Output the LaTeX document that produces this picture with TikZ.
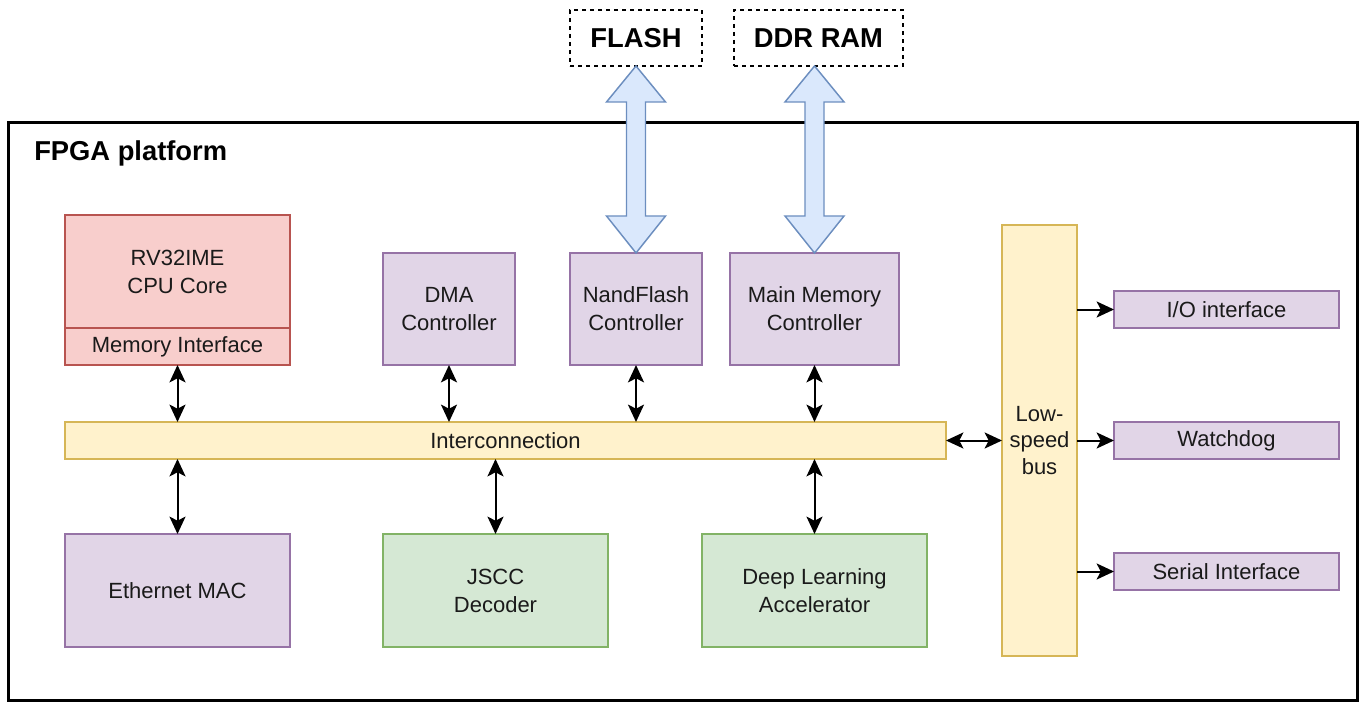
\documentclass[tikz,border=0pt]{standalone}
\usepackage{fontspec}
\setmainfont{Liberation Sans}
\usetikzlibrary{arrows.meta}
\definecolor{redF}{HTML}{F8CECC}\definecolor{redD}{HTML}{B85450}
\definecolor{purF}{HTML}{E1D5E7}\definecolor{purD}{HTML}{9673A6}
\definecolor{grnF}{HTML}{D5E8D4}\definecolor{grnD}{HTML}{82B366}
\definecolor{yelF}{HTML}{FFF2CC}\definecolor{yelD}{HTML}{D6B656}
\definecolor{bluF}{HTML}{DAE8FC}\definecolor{bluD}{HTML}{6C8EBF}
\definecolor{txt}{HTML}{1A1A1A}
\begin{document}
\begin{tikzpicture}[x=0.75pt,y=-0.75pt,
  sz/.style 2 args={minimum width=#1*0.75pt, minimum height=#2*0.75pt},
  base/.style={draw, line width=1.1pt, inner sep=0pt, outer sep=0pt, align=center, text=txt,
    font=\fontsize{16.5}{21}\selectfont},
  rbox/.style={base, fill=redF, draw=redD},
  pbox/.style={base, fill=purF, draw=purD},
  gbox/.style={base, fill=grnF, draw=grnD},
  ybox/.style={base, fill=yelF, draw=yelD},
  dbox/.style={draw=black, dashed, line width=1.1pt, inner sep=0pt, outer sep=0pt,
    font=\fontsize{20.5}{24}\selectfont\bfseries},
  blk/.style={fill=bluF, draw=bluD, line width=1.1pt, line join=miter},
  con/.style={line width=1.5pt, {Stealth[length=13pt,width=12pt,inset=3pt]}-{Stealth[length=13pt,width=12pt,inset=3pt]}},
  one/.style={line width=1.5pt, -{Stealth[length=13pt,width=12pt,inset=3pt]}}
]
\useasboundingbox (0,0) rectangle (1363,702);
% outer platform box
\draw[line width=2.3pt] (8.5,122.5) rectangle (1357.5,701);
\node[anchor=west, inner sep=0pt, font=\fontsize{20.5}{24}\selectfont\bfseries] (title) at (34,153) {FPGA platform};

% external memories
\node[dbox, sz={132}{56}] (flash) at (636,38) {FLASH};
\node[dbox, sz={169}{56}] (ddr) at (818.5,38) {DDR RAM};

% CPU
\node[rbox, sz={225}{113}] (cpu) at (177.5,271.5) {RV32IME\\CPU Core};
\node[rbox, sz={225}{37}] (memif) at (177.5,346.5) {Memory Interface};

% controllers
\node[pbox, sz={132}{112}] (dma) at (449,309) {DMA\\Controller};
\node[pbox, sz={132}{112}] (nand) at (636,309) {NandFlash\\Controller};
\node[pbox, sz={169}{112}] (mm) at (814.5,309) {Main Memory\\Controller};

% interconnection and low-speed bus
\node[ybox, sz={881}{37}] (ic) at (505.5,440.5) {Interconnection};
\node[ybox, sz={75}{431}, font=\fontsize{16.5}{20}\selectfont] (lsb) at (1039.5,440.5) {Low-\\speed\\bus};

% peripherals
\node[pbox, sz={225}{37}] (io) at (1226.5,309.5) {I/O interface};
\node[pbox, sz={225}{37}] (wd) at (1226.5,440.5) {Watchdog};
\node[pbox, sz={225}{37}] (ser) at (1226.5,571.5) {Serial Interface};

% bottom blocks
\node[pbox, sz={225}{113}] (eth) at (177.5,590.5) {Ethernet MAC};
\node[gbox, sz={225}{113}] (jscc) at (495.5,590.5) {JSCC\\Decoder};
\node[gbox, sz={225}{113}] (dla) at (814.5,590.5) {Deep Learning\\Accelerator};

% block arrows
\draw[blk] (flash.south) -- ++(29.5,36) -- ++(-20,0) -- ++(0,114) -- ++(20,0) -- (nand.north)
  -- ++(-29.5,-37) -- ++(20,0) -- ++(0,-114) -- ++(-20,0) -- cycle;
\coordinate (ddrtip) at (mm.north |- ddr.south);
\draw[blk] (ddrtip) -- ++(29.5,36) -- ++(-20,0) -- ++(0,114) -- ++(20,0) -- (mm.north)
  -- ++(-29.5,-37) -- ++(20,0) -- ++(0,-114) -- ++(-20,0) -- cycle;

% connectors to interconnection
\draw[con] (memif.south) -- (memif.south |- ic.north);
\draw[con] (dma.south) -- (dma.south |- ic.north);
\draw[con] (nand.south) -- (nand.south |- ic.north);
\draw[con] (mm.south) -- (mm.south |- ic.north);
\draw[con] (eth.north |- ic.south) -- (eth.north);
\draw[con] (jscc.north |- ic.south) -- (jscc.north);
\draw[con] (dla.north |- ic.south) -- (dla.north);
\draw[con] (ic.east) -- (ic.east -| lsb.west);

% low-speed bus to peripherals
\draw[one] (io.west -| lsb.east) -- (io.west);
\draw[one] (wd.west -| lsb.east) -- (wd.west);
\draw[one] (ser.west -| lsb.east) -- (ser.west);
\end{tikzpicture}
\end{document}
